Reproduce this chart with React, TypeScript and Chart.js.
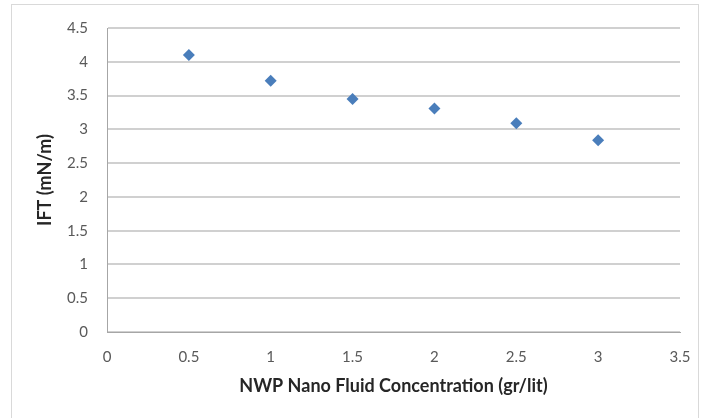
import React, { useEffect, useRef } from "react";
import { Chart, registerables } from "chart.js";

Chart.register(...registerables);

const concentrations = [0.5, 1, 1.5, 2, 2.5, 3];
const iftValues = [4.1, 3.72, 3.45, 3.31, 3.09, 2.84];
const xTitle = "NWP Nano Fluid Concentration (gr/lit)";
const yTitle = "IFT (mN/m)";

const FONT = "Lato, 'Open Sans', sans-serif";

export default function App() {
  const ref = useRef<HTMLCanvasElement | null>(null);
  useEffect(() => {
    document.body.style.margin = "0";
    const ctx = ref.current!;
    const chart = new Chart(ctx, {
      type: "scatter",
      data: {
        datasets: [
          {
            data: concentrations.map((x, i) => ({ x, y: iftValues[i] })),
            pointStyle: "rectRot",
            pointRadius: 6,
            backgroundColor: "#4A7EBB",
            borderColor: "#4A7EBB",
            borderWidth: 0,
          },
        ],
      },
      options: {
        animation: false,
        responsive: false,
        maintainAspectRatio: false,
        layout: { padding: { left: 34, right: 22, top: 15, bottom: 21 } },
        plugins: { legend: { display: false }, tooltip: { enabled: false } },
        scales: {
          x: {
            type: "linear",
            min: 0,
            max: 3.5,
            ticks: {
              stepSize: 0.5,
              padding: 16,
              color: "#595959",
              font: { family: FONT, size: 15 },
              callback: (v: any) => String(v),
            },
            grid: { display: false, drawTicks: false },
            border: { display: true, color: "#A6A6A6", width: 1 },
            title: {
              display: true,
              text: xTitle,
              color: "#262626",
              font: { family: FONT, size: 18, weight: "bold" },
              padding: { top: 4, bottom: 0 },
            },
            afterFit: (s: any) => {
              s.height = 65;
              s.paddingRight = 0;
            },
          },
          y: {
            min: 0,
            max: 4.5,
            ticks: {
              stepSize: 0.5,
              padding: 19,
              color: "#595959",
              font: { family: FONT, size: 15 },
              callback: (v: any) => String(v),
            },
            grid: { color: "#D0D0D0", lineWidth: 2, drawTicks: false },
            border: { display: true, color: "#A6A6A6", width: 1 },
            title: {
              display: true,
              text: yTitle,
              color: "#262626",
              font: { family: FONT, size: 18, weight: "bold" },
              padding: { top: 0, bottom: 4 },
            },
            afterFit: (s: any) => {
              s.width = 73;
            },
          },
        },
      },
    });
    return () => chart.destroy();
  }, []);
  return (
    <div style={{ position: "relative", width: 702, height: 418, background: "#fff" }}>
      <div
        style={{
          position: "absolute",
          left: 11,
          top: 4,
          width: 688,
          height: 420,
          border: "1px solid #D9D9D9",
          boxSizing: "border-box",
        }}
      />
      <canvas ref={ref} width={702} height={418} style={{ position: "absolute", left: 0, top: 0 }} />
    </div>
  );
}
